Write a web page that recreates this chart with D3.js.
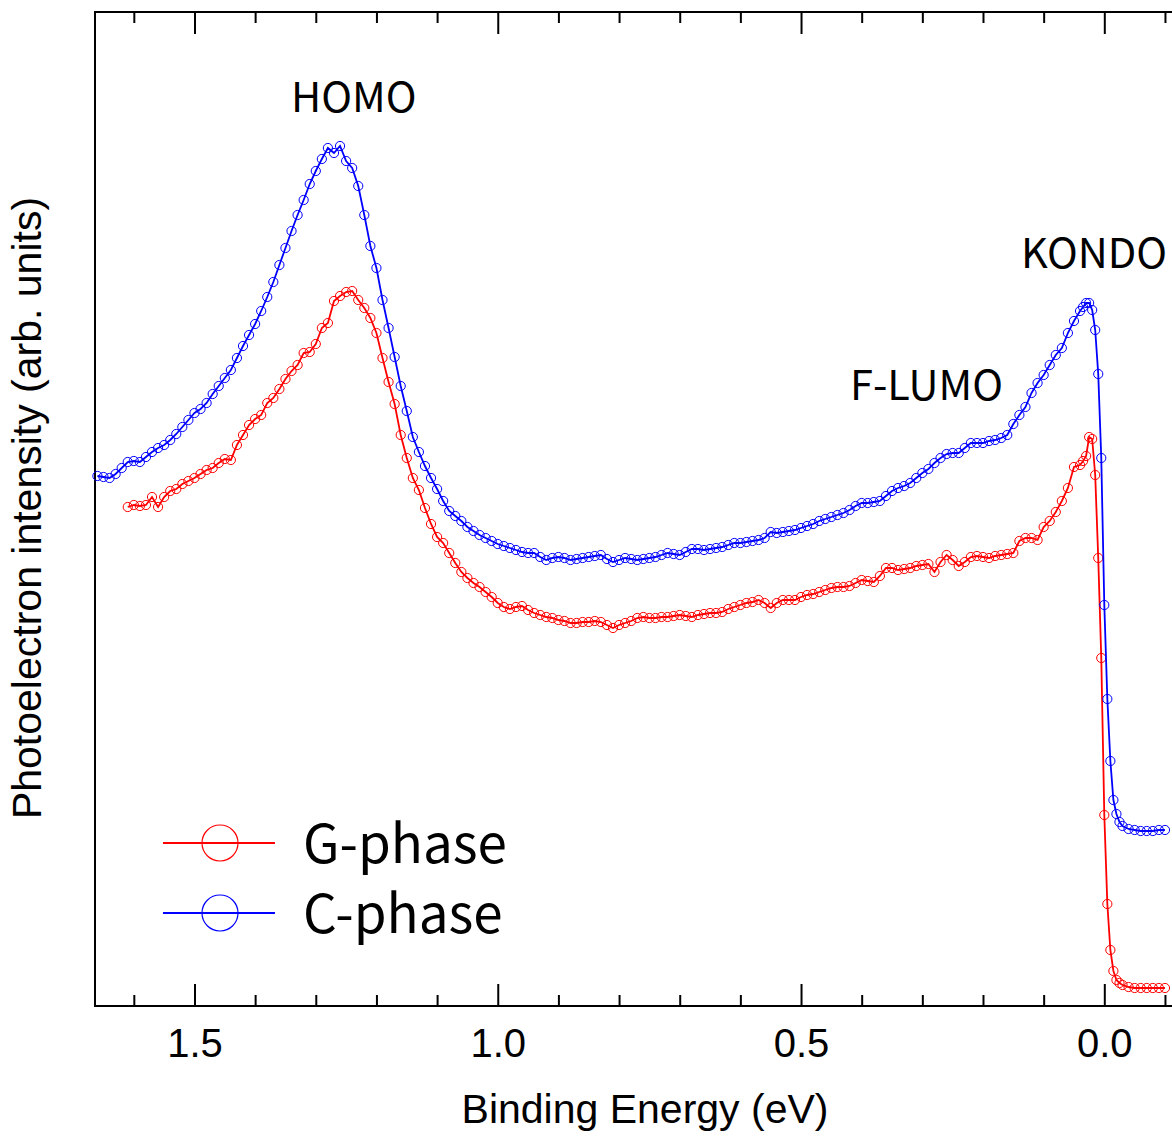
<html>
<style>
  body { margin: 0; background: #ffffff; }
  svg { display: block; }
  .tick text { font-family: "Liberation Sans", Arial, sans-serif; }
</style>
<script src="https://d3js.org/d3.v7.min.js"></script>
<body>
<svg id="chart" width="1172" height="1137"></svg>
</body>
<script>

  // binding energy grid (eV) for the C-phase scan; G-phase starts at 1.61
  const energyC = [1.66,1.65,1.64,1.63,1.62,1.61,1.60,1.59,1.58,1.57,
    1.56,1.55,1.54,1.53,1.52,1.51,1.50,1.49,1.48,1.47,
    1.46,1.45,1.44,1.43,1.42,1.41,1.40,1.39,1.38,1.37,
    1.36,1.35,1.34,1.33,1.32,1.31,1.30,1.29,1.28,1.27,
    1.26,1.25,1.24,1.23,1.22,1.21,1.20,1.19,1.18,1.17,
    1.16,1.15,1.14,1.13,1.12,1.11,1.10,1.09,1.08,1.07,
    1.06,1.05,1.04,1.03,1.02,1.01,1.00,0.99,0.98,0.97,
    0.96,0.95,0.94,0.93,0.92,0.91,0.90,0.89,0.88,0.87,
    0.86,0.85,0.84,0.83,0.82,0.81,0.80,0.79,0.78,0.77,
    0.76,0.75,0.74,0.73,0.72,0.71,0.70,0.69,0.68,0.67,
    0.66,0.65,0.64,0.63,0.62,0.61,0.60,0.59,0.58,0.57,
    0.56,0.55,0.54,0.53,0.52,0.51,0.50,0.49,0.48,0.47,
    0.46,0.45,0.44,0.43,0.42,0.41,0.40,0.39,0.38,0.37,
    0.36,0.35,0.34,0.33,0.32,0.31,0.30,0.29,0.28,0.27,
    0.26,0.25,0.24,0.23,0.22,0.21,0.20,0.19,0.18,0.17,
    0.16,0.15,0.14,0.13,0.12,0.11,0.10,0.09,0.08,0.07,
    0.06,0.05,0.04,
    0.035,0.03,0.025,0.02,0.015,0.01,0.005,0.0,-0.005,-0.01,-0.015,-0.02,-0.025,-0.03,
    -0.04,-0.05,-0.06,-0.07,-0.08,-0.09,-0.10]
  const energyG = energyC.slice(5)

  // C-phase intensity (arb. units)
  const intensityC = [53.0,52.9,52.8,53.2,53.8,54.4,54.5,54.4,54.9,55.4,
    55.8,56.1,56.6,57.2,57.9,58.6,59.3,59.7,60.3,61.2,
    62.0,62.8,63.6,64.8,66.0,67.1,68.2,69.5,70.9,72.4,
    74.1,75.8,77.5,79.1,80.6,82.2,83.5,84.7,85.8,85.3,
    86.0,84.5,83.8,82.0,79.1,76.0,73.8,70.6,67.8,64.9,
    62.0,59.5,56.9,55.4,54.0,52.8,51.7,50.5,49.5,49.0,
    48.5,47.9,47.5,47.1,46.8,46.5,46.2,46.0,45.8,45.6,
    45.4,45.3,45.3,44.9,44.6,44.8,44.9,44.8,44.6,44.7,
    44.8,44.9,45.0,45.1,44.7,44.4,44.6,44.8,44.7,44.6,
    44.7,44.8,44.9,45.1,45.3,45.2,45.1,45.4,45.7,45.7,
    45.6,45.7,45.8,45.9,46.1,46.3,46.3,46.4,46.5,46.6,
    46.8,47.4,47.3,47.4,47.5,47.6,47.8,48.0,48.2,48.5,
    48.7,48.9,49.1,49.3,49.6,50.0,50.3,50.3,50.4,50.5,
    51.0,51.5,51.8,52.0,52.3,52.8,53.3,53.7,54.3,54.8,
    55.2,55.3,55.3,55.8,56.3,56.3,56.3,56.5,56.6,56.8,
    57.1,58.2,59.1,59.9,61.3,62.3,63.1,64.1,65.1,65.8,
    67.3,68.5,69.5,
    69.9,70.3,70.3,69.6,67.6,63.2,54.8,40.1,30.7,24.5,20.6,19.2,18.4,18.0,
    17.7,17.6,17.5,17.5,17.5,17.6,17.6]

  // G-phase intensity (arb. units)
  const intensityG = [49.9,50.1,50.0,50.1,50.9,49.9,50.9,51.5,51.7,52.2,
    52.5,52.8,53.2,53.6,53.8,54.3,54.7,54.6,56.1,57.1,
    58.1,58.7,59.1,60.3,60.8,61.7,62.7,63.5,64.1,65.3,
    65.4,66.2,67.8,68.3,70.5,71.0,71.4,71.5,70.6,69.8,
    68.8,67.3,64.8,62.4,60.2,57.1,54.8,52.8,51.6,49.8,
    48.2,46.9,46.3,45.3,44.3,43.4,42.8,42.3,41.9,41.4,
    40.9,40.3,39.9,39.7,39.9,40.0,39.6,39.3,39.1,38.9,
    38.8,38.6,38.5,38.3,38.3,38.4,38.4,38.5,38.4,38.1,
    37.8,38.1,38.3,38.5,38.8,38.9,38.8,38.8,38.9,38.9,
    39.0,39.1,39.0,38.9,39.1,39.2,39.3,39.3,39.4,39.7,
    39.9,40.1,40.3,40.4,40.6,40.3,39.8,40.3,40.6,40.6,
    40.6,40.9,41.1,41.2,41.4,41.6,41.8,41.9,41.9,42.0,
    42.3,42.6,42.5,42.4,43.0,43.8,43.8,43.6,43.7,43.8,
    44.0,44.1,44.2,43.4,44.4,45.1,44.6,44.0,44.4,44.9,
    45.0,44.9,44.8,45.0,45.1,45.2,45.3,46.5,46.8,46.8,
    46.6,47.9,48.5,49.4,50.5,51.8,53.9,54.1,
    54.5,55.0,56.9,56.7,53.1,44.8,34.8,19.1,10.2,5.6,3.5,2.6,2.3,2.1,
    1.9,1.8,1.8,1.8,1.8,1.8,1.8]

  const majorTicks = [1.5, 1.0, 0.5, 0.0]
  const minorTicks = [1.6, 1.4, 1.3, 1.2, 1.1, 0.9, 0.8, 0.7, 0.6, 0.4, 0.3, 0.2, 0.1, -0.1]

  const series = [
    {name: 'G-phase', color: '#ff0000', energy: energyG, intensity: intensityG},
    {name: 'C-phase', color: '#0000ff', energy: energyC, intensity: intensityC}
  ]

  const labels = [
    {text: 'HOMO', x: 291, y: 112},
    {text: 'F-LUMO', x: 850, y: 400},
    {text: 'KONDO', x: 1021, y: 268}
  ]

  function drawChart() {
    let svg = d3.select('#chart')
    let left = 95, right = 1178, top = 12, bottom = 1006

    let x = d3.scaleLinear().domain([1.664, -0.1215]).range([left, right])
    let y = d3.scaleLinear().domain([0, 99.4]).range([bottom, top])

    // minor + major ticks, bottom and top, pointing inward
    let gb = svg.append('g').attr('transform', `translate(0,${bottom})`)
    gb.call(d3.axisBottom(x).tickValues(minorTicks).tickSize(-11).tickSizeOuter(0).tickFormat(''))
    let gbm = svg.append('g').attr('transform', `translate(0,${bottom})`)
    gbm.call(d3.axisBottom(x).tickValues(majorTicks).tickSize(-22).tickSizeOuter(0).tickFormat(d3.format('.1f')))
    gbm.selectAll('.tick text')
        .attr('y', 51).attr('dy', 0)
        .attr('font-size', 40).attr('fill', '#000')

    let gt = svg.append('g').attr('transform', `translate(0,${top})`)
    gt.call(d3.axisTop(x).tickValues(minorTicks).tickSize(-11).tickSizeOuter(0).tickFormat(''))
    let gtm = svg.append('g').attr('transform', `translate(0,${top})`)
    gtm.call(d3.axisTop(x).tickValues(majorTicks).tickSize(-22).tickSizeOuter(0).tickFormat(''))

    svg.selectAll('.domain').remove()
    svg.selectAll('.tick line').attr('stroke', '#000').attr('stroke-width', 2)

    // frame
    svg.append('path')
        .attr('d', `M${right},${top}H${left}V${bottom}H${right}`)
        .attr('fill', 'none').attr('stroke', '#000').attr('stroke-width', 2)

    // curves
    let line = d3.line()
        .x(d => x(d[0]))
        .y(d => y(d[1]))

    series.forEach(s => {
      let pts = s.energy.map((e, i) => [e, s.intensity[i]])
      svg.append('path')
          .datum(pts)
          .attr('d', line)
          .attr('fill', 'none')
          .attr('stroke', s.color)
          .attr('stroke-width', 1.8)
      svg.append('g').selectAll('circle').data(pts)
          .enter().append('circle')
          .attr('cx', d => x(d[0]))
          .attr('cy', d => y(d[1]))
          .attr('r', 4.6)
          .attr('fill', 'none')
          .attr('stroke', s.color)
          .attr('stroke-width', 1)
    })

    // axis titles
    svg.append('text')
        .attr('x', 645).attr('y', 1123)
        .attr('text-anchor', 'middle')
        .attr('font-family', '"Liberation Sans", Arial, sans-serif')
        .attr('font-size', 41)
        .text('Binding Energy (eV)')
    svg.append('text')
        .attr('transform', 'translate(41,508) rotate(-90)')
        .attr('text-anchor', 'middle')
        .attr('font-family', '"Liberation Sans", Arial, sans-serif')
        .attr('font-size', 41)
        .text('Photoelectron intensity (arb. units)')

    // peak labels
    svg.selectAll('.peak').data(labels)
        .enter().append('text')
        .attr('class', 'peak')
        .attr('x', d => d.x).attr('y', d => d.y)
        .attr('font-family', '"Noto Sans CJK JP", sans-serif')
        .attr('font-size', 41.5)
        .text(d => d.text)

    // legend
    let lg = svg.append('g')
    series.forEach((s, i) => {
      let ly = 843 + i * 70
      lg.append('line')
          .attr('x1', 163).attr('x2', 275).attr('y1', ly).attr('y2', ly)
          .attr('stroke', s.color).attr('stroke-width', 2)
      lg.append('circle')
          .attr('cx', 220).attr('cy', ly).attr('r', 18)
          .attr('fill', 'none').attr('stroke', s.color).attr('stroke-width', 1.2)
      lg.append('text')
          .attr('x', 303).attr('y', ly + 20)
          .attr('font-family', '"Noto Sans CJK JP", sans-serif')
          .attr('font-size', 53)
          .text(s.name)
    })
  }

  drawChart()

</script>
</html>
